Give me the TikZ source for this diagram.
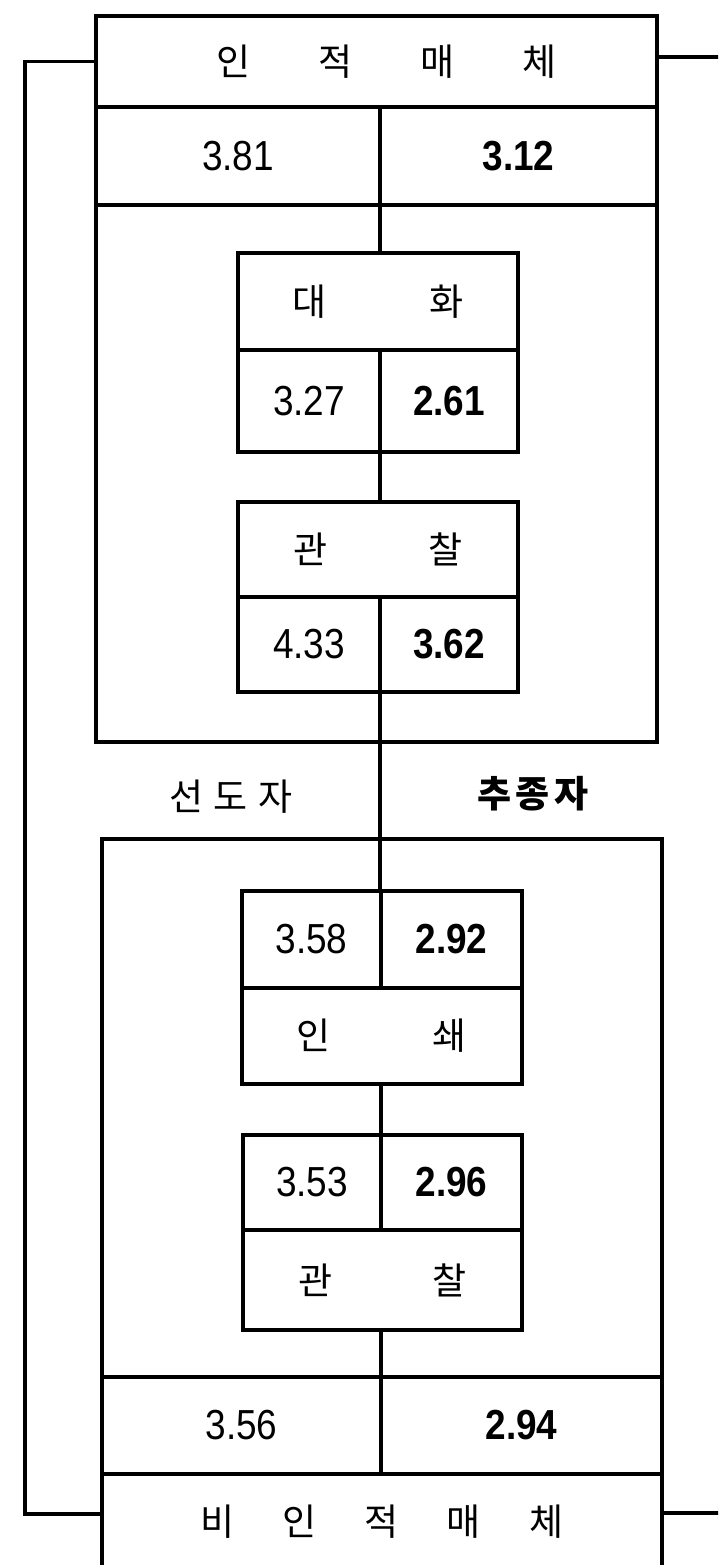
\documentclass[tikz,border=0pt]{standalone}
\usepackage{fontspec}
\setmainfont{Noto Sans CJK KR}
\newfontfamily\numfont[FakeStretch=0.88]{Liberation Sans}
\newcommand{\krsize}{\fontsize{37}{40}\selectfont}
\newcommand{\numsize}{\fontsize{42}{48}\selectfont}
\begin{document}
\begin{tikzpicture}[x=1pt,y=-1pt,
  line/.style={line width=3.6pt, line cap=rect},
  wh/.style 2 args={minimum width=#1pt, minimum height=#2pt},
  box/.style={draw, line width=3.6pt, inner sep=0pt, outer sep=0pt, anchor=north west, font=\krsize},
  num/.style={box, font=\numfont\numsize},
  bnum/.style={box, font=\numfont\bfseries\numsize},
  lbl/.style={inner sep=0pt, font=\krsize}]
\useasboundingbox (0,0) rectangle (718,1565);
\clip (0,0) rectangle (718,1565);
% upper block
\node[box, wh={561}{91}] (hdrT) at (96,16) {\hspace{20pt}인\hspace{68pt}적\hspace{68pt}매\hspace{68pt}체};
\node[num, wh={284}{98}] (nLT) at (96,107) {3.81};
\node[bnum, wh={277}{98}] (nRT) at (380,107) {3.12};
\node[box, wh={561}{537}] (bodyT) at (96,205) {};
\node[box, wh={280}{97}] (dh) at (238,253) {대\hspace{103pt}화};
\node[num, wh={142}{102}] (dhL) at (238,350) {3.27};
\node[bnum, wh={138}{102}] (dhR) at (380,350) {2.61};
\node[box, wh={280}{95}] (gc) at (238,502) {관\hspace{101pt}찰};
\node[num, wh={142}{95}] (gcL) at (238,597) {4.33};
\node[bnum, wh={138}{95}] (gcR) at (380,597) {3.62};
% labels
\node[lbl] (lead) at (231,797) {선\hspace{10pt}도\hspace{10pt}자};
\node[lbl] (follow) at (533,794) {\bfseries 추\hspace{4pt}종\hspace{4pt}자};
% lower block
\node[box, wh={560}{538}] (bodyB) at (102,839) {};
\node[num, wh={139}{97}] (prL) at (242,891) {3.58};
\node[bnum, wh={141}{97}] (prR) at (381,891) {2.92};
\node[box, wh={280}{96}] (prH) at (242,988) {인\hspace{102pt}쇄};
\node[num, wh={138}{95}] (obL) at (243,1135) {3.53};
\node[bnum, wh={141}{95}] (obR) at (381,1135) {2.96};
\node[box, wh={279}{100}] (obH) at (243,1230) {관\hspace{100pt}찰};
\node[num, wh={279}{97}] (nLB) at (102,1377) {3.56};
\node[bnum, wh={281}{97}] (nRB) at (381,1377) {2.94};
\node[box, wh={560}{96}] (hdrB) at (102,1474) {비\hspace{48pt}인\hspace{48pt}적\hspace{48pt}매\hspace{48pt}체\hspace{30pt}};
% central spine
\draw[line] (nLT.south east) -- (nLT.south east |- dh.north);
\draw[line] (dhL.south east) -- (dhL.south east |- gc.north);
\draw[line] (gcL.south east) -- (gcL.south east |- prL.north);
\draw[line] (prH.south -| prL.east) -- (prL.east |- obL.north);
\draw[line] (obH.south -| obL.east) -- (obL.east |- nLB.north);
% side connectors
\coordinate (lc) at (25,1514);
\draw[line] (hdrT.west) -| (lc) -- (lc -| hdrB.west);
\coordinate (rt) at (718,57);
\draw[line] (rt -| hdrT.east) -- (rt);
\coordinate (rb) at (718,1513);
\draw[line] (rb -| hdrB.east) -- (rb);
\end{tikzpicture}
\end{document}
